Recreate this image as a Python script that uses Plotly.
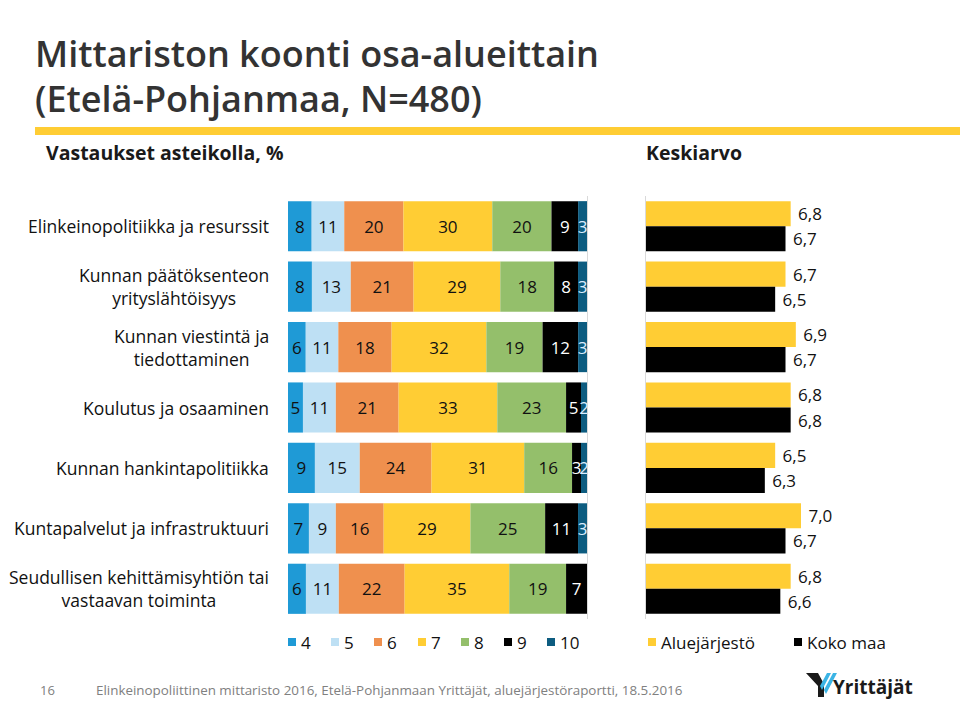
import plotly.graph_objects as go

# ---------------- data ----------------
categories = [
    "Elinkeinopolitiikka ja resurssit",
    "Kunnan päätöksenteon yrityslähtöisyys",
    "Kunnan viestintä ja tiedottaminen",
    "Koulutus ja osaaminen",
    "Kunnan hankintapolitiikka",
    "Kuntapalvelut ja infrastruktuuri",
    "Seudullisen kehittämisyhtiön tai vastaavan toiminta",
]
category_labels = [
    "Elinkeinopolitiikka ja resurssit",
    "Kunnan päätöksenteon<br>yrityslähtöisyys",
    "Kunnan viestintä ja<br>tiedottaminen",
    "Koulutus ja osaaminen",
    "Kunnan hankintapolitiikka",
    "Kuntapalvelut ja infrastruktuuri",
    "Seudullisen kehittämisyhtiön tai<br>vastaavan toiminta",
]
scale_names = ["4", "5", "6", "7", "8", "9", "10"]
v4 = [8, 8, 6, 5, 9, 7, 6]
v5 = [11, 13, 11, 11, 15, 9, 11]
v6 = [20, 21, 18, 21, 24, 16, 22]
v7 = [30, 29, 32, 33, 31, 29, 35]
v8 = [20, 18, 19, 23, 16, 25, 19]
v9 = [9, 8, 12, 5, 3, 11, 7]
v10 = [3, 3, 3, 2, 2, 3, 0]
mean_names = ["Aluejärjestö", "Koko maa"]
mean_region = [6.8, 6.7, 6.9, 6.8, 6.5, 7.0, 6.8]
mean_country = [6.7, 6.5, 6.7, 6.8, 6.3, 6.7, 6.6]

# ---------------- styles ----------------
seg_colors = ["#1F9AD6", "#BEE0F4", "#EF904E", "#FFCD34", "#94BF6B", "#000000", "#0D5C80"]
seg_text = ["#111111", "#111111", "#111111", "#111111", "#111111", "#FFFFFF", "#DDEEFF"]
mean_colors = ["#FFCD34", "#000000"]
FONT = "Open Sans, Noto Sans, DejaVu Sans, sans-serif"
W, H = 960, 701


def px(x):
    return x / W


def py(y):
    return 1 - y / H


series = [v4, v5, v6, v7, v8, v9, v10]
totals = [sum(s[i] for s in series) for i in range(len(categories))]

fig = go.Figure()
cum = [0.0] * len(categories)
for name, vals, col, tcol in zip(scale_names, series, seg_colors, seg_text):
    widths = [v / t * 100 for v, t in zip(vals, totals)]
    fig.add_trace(go.Bar(
        name=name, orientation="h", y=categories, x=widths, base=list(cum),
        offsetgroup="dist", marker=dict(color=col, line=dict(width=0)),
        text=[str(v) if v else "" for v in vals], textposition="inside",
        insidetextanchor="middle", textangle=0, constraintext="none",
        textfont=dict(family=FONT, size=17, color=tcol),
        xaxis="x", yaxis="y", showlegend=False, hoverinfo="skip",
    ))
    cum = [c + w for c, w in zip(cum, widths)]

for name, vals, col in zip(mean_names, [mean_region, mean_country], mean_colors):
    fig.add_trace(go.Bar(
        name=name, orientation="h", y=categories, x=vals,
        offsetgroup=name, marker=dict(color=col, line=dict(width=0)),
        text=[" " + f"{v:.1f}".replace(".", ",") for v in vals],
        textposition="outside", textangle=0, constraintext="none", cliponaxis=False,
        textfont=dict(family=FONT, size=17, color="#111111"),
        xaxis="x2", yaxis="y2", showlegend=False, hoverinfo="skip",
    ))

ydom = [py(619), py(196)]
annotations = []
for cat, lab in zip(categories, category_labels):
    annotations.append(dict(
        x=px(271), xref="paper", y=cat, yref="y", xanchor="right", yanchor="middle",
        text=lab, align="center", showarrow=False,
        font=dict(family=FONT, size=17.5, color="#111111"),
    ))

annotations += [
    dict(x=px(33), y=py(54), xref="paper", yref="paper", xanchor="left", yanchor="middle",
         text="Mittariston koonti osa-alueittain", showarrow=False,
         font=dict(family=FONT, size=36, color="#333333", weight=600)),
    dict(x=px(33), y=py(98), xref="paper", yref="paper", xanchor="left", yanchor="middle",
         text="(Etelä-Pohjanmaa, N=480)", showarrow=False,
         font=dict(family=FONT, size=36, color="#333333", weight=600)),
    dict(x=px(44), y=py(152), xref="paper", yref="paper", xanchor="left", yanchor="middle",
         text="<b>Vastaukset asteikolla, %</b>", showarrow=False,
         font=dict(family=FONT, size=19.5, color="#1a1a1a")),
    dict(x=px(644), y=py(152), xref="paper", yref="paper", xanchor="left", yanchor="middle",
         text="<b>Keskiarvo</b>", showarrow=False,
         font=dict(family=FONT, size=19.5, color="#1a1a1a")),
    dict(x=px(38), y=py(690), xref="paper", yref="paper", xanchor="left", yanchor="middle",
         text="16", showarrow=False,
         font=dict(family=FONT, size=13, color="#808080")),
    dict(x=px(94), y=py(690), xref="paper", yref="paper", xanchor="left", yanchor="middle",
         text="Elinkeinopoliittinen mittaristo 2016, Etelä-Pohjanmaan Yrittäjät, aluejärjestöraportti, 18.5.2016",
         showarrow=False,
         font=dict(family=FONT, size=13.4, color="#808080")),
    dict(x=px(831), y=py(687), xref="paper", yref="paper", xanchor="left", yanchor="middle",
         text="<b>Yrittäjät</b>", showarrow=False,
         font=dict(family=FONT, size=19, color="#1a1a1a")),
]


def path(points):
    return "M " + " L ".join(f"{px(x):.5f},{py(y):.5f}" for x, y in points) + " Z"


shapes = [
    dict(type="line", xref="paper", yref="paper", x0=px(35), x1=1, y0=py(131), y1=py(131),
         line=dict(color="#FFCD34", width=8)),
    dict(type="path", xref="paper", yref="paper",
         path=path([(806, 673), (818, 673), (824, 684), (824, 697), (818, 697), (818, 686)]),
         fillcolor="#1a1a1a", line=dict(width=0)),
    dict(type="path", xref="paper", yref="paper",
         path=path([(827, 673), (831, 673), (822, 690), (820, 686)]),
         fillcolor="#3BB4E5", line=dict(width=0)),
    dict(type="path", xref="paper", yref="paper",
         path=path([(833, 673), (837, 673), (826, 694), (824, 690)]),
         fillcolor="#3BB4E5", line=dict(width=0)),
]

# legend (drawn as key squares + labels)
legend_names = scale_names + mean_names
legend_colors = seg_colors + mean_colors
legend_left = [288, 331, 374, 418, 461, 504, 547, 648, 794]
LEG_Y = 642
for name, col, x0 in zip(legend_names, legend_colors, legend_left):
    shapes.append(dict(type="rect", xref="paper", yref="paper",
                       x0=px(x0), x1=px(x0 + 8), y0=py(LEG_Y + 4), y1=py(LEG_Y - 4),
                       fillcolor=col, line=dict(width=0)))
    annotations.append(dict(x=px(x0 + 11), y=py(LEG_Y), xref="paper", yref="paper",
                            xanchor="left", yanchor="middle", text=name, showarrow=False,
                            font=dict(family=FONT, size=17, color="#111111")))

fig.update_layout(
    width=W, height=H, margin=dict(l=0, r=0, t=0, b=0),
    paper_bgcolor="white", plot_bgcolor="white",
    barmode="group", bargap=0.17, bargroupgap=0, showlegend=False,
    font=dict(family=FONT, size=16, color="#1a1a1a"),
    xaxis=dict(domain=[px(288), px(587)], range=[0, 100], visible=False, fixedrange=True),
    yaxis=dict(domain=ydom, type="category", categoryorder="array", categoryarray=categories,
               autorange="reversed", showticklabels=False, ticks="", showgrid=False,
               showline=True, linecolor="#d9d9d9", linewidth=1, side="right", anchor="x"),
    xaxis2=dict(domain=[px(646), px(956)], range=[4, 10], visible=False, anchor="y2"),
    yaxis2=dict(domain=ydom, type="category", categoryorder="array", categoryarray=categories,
                autorange="reversed", showticklabels=False, ticks="", showgrid=False,
                showline=True, linecolor="#d9d9d9", linewidth=1, anchor="x2"),
    annotations=annotations, shapes=shapes,
)

fig.write_html("out.html")
